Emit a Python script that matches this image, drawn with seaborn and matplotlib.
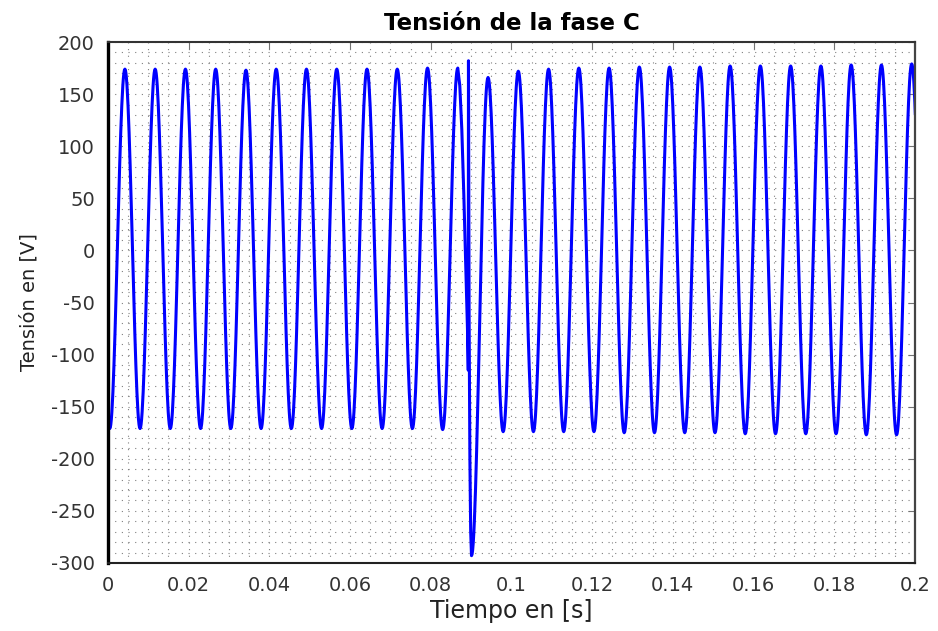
import numpy as np
import pandas as pd
import matplotlib
matplotlib.use('Agg')
import matplotlib.pyplot as plt
from matplotlib.ticker import MultipleLocator
import seaborn as sns

# ── datos ────────────────────────────────────────────────────────────────────
# máximos de cada ciclo (s, V)
peak_t = [-0.0033, 0.0042, 0.0117, 0.0192, 0.0267, 0.0342, 0.0417, 0.0492, 0.0567,
          0.0642, 0.0717, 0.0792, 0.0867, 0.0942, 0.1017, 0.1092, 0.1167, 0.1242,
          0.1317, 0.1392, 0.1467, 0.1542, 0.1617, 0.1692, 0.1767, 0.1842, 0.1917,
          0.1992]
peak_v = [174, 174, 174, 174, 174, 173, 174, 174, 174, 174, 174, 175, 175, 166,
          172, 174, 175, 175, 176, 176, 176, 177, 177, 177, 177, 178, 178, 179]

# mínimos de cada ciclo (s, V)
trough_t = [0.00045, 0.00795, 0.01545, 0.02295, 0.03045, 0.03795, 0.04545, 0.05295,
            0.06045, 0.06795, 0.07545, 0.08295, 0.0901, 0.09795, 0.10545, 0.11295,
            0.12045, 0.12795, 0.13545, 0.14295, 0.15045, 0.15795, 0.16545, 0.17295,
            0.18045, 0.18795, 0.19545, 0.20295]
trough_v = [-171, -171, -171, -171, -171, -171, -171, -171, -171, -171, -171, -172,
            -293, -174, -174, -174, -174, -175, -175, -175, -175, -176, -176, -176,
            -176, -177, -177, -178]

# transitorio (falla) después del máximo de 0.0867 s
fault_after = 0.0867
fault_t = [0.0872, 0.0877, 0.0882, 0.0887, 0.0891, 0.0893, 0.08935, 0.0895, 0.0897, 0.0899]
fault_v = [158, 116, 53, -18, -75, -115, 182, -60, -200, -270]

xtick_vals = [0, 0.02, 0.04, 0.06, 0.08, 0.1, 0.12, 0.14, 0.16, 0.18, 0.2]
xtick_labels = ['0', '0.02', '0.04', '0.06', '0.08', '0.1', '0.12', '0.14', '0.16', '0.18', '0.2']
ytick_vals = [-300, -250, -200, -150, -100, -50, 0, 50, 100, 150, 200]

# ── armar la curva entre extremos ────────────────────────────────────────────
ext = pd.DataFrame({'t': peak_t + trough_t, 'v': peak_v + trough_v}).sort_values('t').to_numpy()
s = np.linspace(0, 1, 30)
w = (1 - np.cos(np.pi * s)) / 2
pieces = []
for (t0, v0), (t1, v1) in zip(ext[:-1], ext[1:]):
    if np.isclose(t0, fault_after):
        pieces.append(pd.DataFrame({'t': [t0] + fault_t, 'v': [v0] + fault_v}))
    else:
        pieces.append(pd.DataFrame({'t': t0 + (t1 - t0) * s, 'v': v0 + (v1 - v0) * w}))
curve = pd.concat(pieces, ignore_index=True)

# ── gráfico ──────────────────────────────────────────────────────────────────
sns.set_style('white')
plt.rcParams['font.family'] = ['DejaVu Sans']
plt.rcParams['axes.unicode_minus'] = False

fig = plt.figure(figsize=(9.38, 6.31), dpi=100)
ax = fig.add_axes([0.1151, 0.1078, 0.8603, 0.8256])

sns.lineplot(data=curve, x='t', y='v', sort=False, estimator=None,
             color='#0000ff', linewidth=2.2, ax=ax)

ax.set_xlim(0, 0.2)
ax.set_ylim(-300, 200)
ax.set_xticks(xtick_vals, labels=xtick_labels)
ax.set_yticks(ytick_vals)
ax.xaxis.set_minor_locator(MultipleLocator(0.005))
ax.yaxis.set_minor_locator(MultipleLocator(10))

ax.grid(which='both', linestyle=(0, (1, 5)), color='0.5', linewidth=0.8)
ax.tick_params(which='major', direction='in', length=5, width=0.8, color='0.45',
               top=True, right=True, labelsize=14, labelcolor='#333333', pad=9.5)
ax.tick_params(which='minor', length=0)

for side, lw, col in [('left', 2.4, 'black'), ('bottom', 1.5, '#222222'),
                      ('top', 1.5, '#333333'), ('right', 1.6, '#444444')]:
    ax.spines[side].set_visible(True)
    ax.spines[side].set_linewidth(lw)
    ax.spines[side].set_color(col)

ax.set_title('Tensión de la fase C', fontsize=16.5, fontweight='bold', color='black', pad=9)
ax.set_xlabel('Tiempo en [s]', fontsize=17, color='#222222', labelpad=3)
ax.set_ylabel('Tensión en [V]', fontsize=14, color='#222222', labelpad=9)

fig.savefig('out.png', dpi=100)
